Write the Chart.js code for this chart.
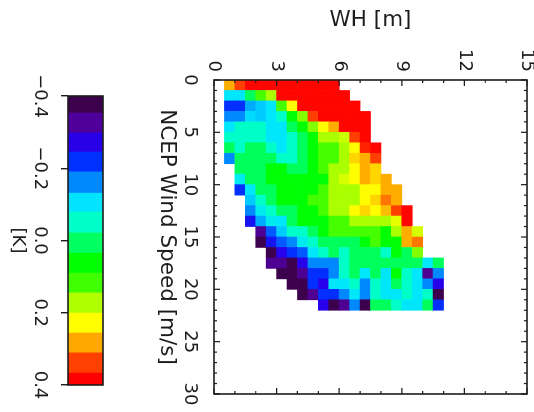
<!DOCTYPE html>
<html>
<head>
<meta charset="utf-8">
<script src="https://cdn.jsdelivr.net/npm/chart.js@4"></script>
<style>
html,body{margin:0;padding:0;background:#fff;overflow:hidden;width:534px;height:412px}
#page{position:absolute;left:0;top:0;width:412px;height:534px;transform-origin:0 0;transform:translate(534px,0) rotate(90deg);filter:blur(0.5px)}
#main{position:absolute;left:0;top:-20px}
#bar{position:absolute;left:0;top:420px}
</style>
</head>
<body>
<div id="page">
<canvas id="main" width="412" height="430"></canvas>
<canvas id="bar" width="412" height="114"></canvas>
</div>
<script>
// Axis titles and ticks
const xTitle = 'NCEP Wind Speed [m/s]';
const yTitle = 'WH [m]';
const barTitle = '[K]';
const xRange = [0, 30];
const yRange = [0, 15];
const barRange = [-0.4, 0.4];
const binWidth = 0.5;

// Colour scale: band limits in K and one colour per band
const bandEdges = [-0.4,-0.353,-0.298,-0.245,-0.19,-0.131,-0.079,-0.021,0.035,0.09,0.145,0.201,0.256,0.311,0.367,0.4];
const bandColors = ['#3c004c','#50009a','#2800e8','#0030ff','#0088ff','#00e4ff','#00ffc8','#00ff60','#00ff00','#40ff00','#b0ff00','#ffff00','#ffa800','#ff4000','#ff0000'];

// First WH bin (in 0.5 m steps) filled in each 1 m/s wind-speed row
const firstBin = [1,1,1,1,1,1,1,1,2,2,2,3,3,3,4,4,5,5,6,7,8,10];

// Mean difference [K] for each wind-speed row, left to right in WH
const wind0  = [.28,.34,.38,.38,.38,.38,.38,.38,.38,.38,.38];
const wind1  = [-.10,-.10,.01,.12,.17,.38,.38,.38,.38,.38,.38,.38];
const wind2  = [-.22,-.22,-.14,-.12,-.10,.12,.23,.38,.38,.38,.38,.38,.38];
const wind3  = [-.16,-.16,-.11,-.12,-.10,-.05,.06,.15,.34,.38,.38,.38,.38,.38];
const wind4  = [-.10,-.05,-.05,-.05,-.10,-.10,.01,.06,.15,.23,.28,.38,.38,.38];
const wind5  = [-.05,-.05,-.05,-.05,-.10,-.10,-.05,.01,.06,.17,.17,.19,.34,.38];
const wind6  = [.01,-.05,.01,.01,-.05,-.10,-.05,.01,.06,.12,.12,.17,.23,.36,.38];
const wind7  = [-.16,.01,.01,.01,.01,-.05,-.05,.01,.06,.12,.12,.17,.255,.28,.34];
const wind8  = [.01,.01,.01,.06,.06,.01,.01,.06,.12,.17,.17,.23,.28,.255];
const wind9  = [-.09,.01,.01,.06,.06,.06,.06,.06,.06,.17,.20,.23,.28,.255,.28];
const wind10 = [-.22,-.10,.01,.01,.06,.06,.06,.06,.12,.17,.17,.17,.23,.23,.28,.28];
const wind11 = [-.12,-.05,.01,.06,.06,.06,.12,.12,.17,.17,.17,.23,.255,.31,.28];
const wind12 = [-.16,-.09,-.05,.01,.01,.06,.06,.12,.17,.17,.23,.255,.23,.27,.34,.38];
const wind13 = [-.25,-.14,-.09,-.10,.01,.06,.06,.06,.12,.12,.17,.17,.17,.17,.21,.38];
const wind14 = [-.33,-.19,-.12,-.05,-.05,.01,.06,.12,.12,.12,.12,.12,.06,.17,.28,.20];
const wind15 = [-.38,-.25,-.19,-.16,-.09,-.05,.01,.01,.01,.01,.06,.12,.06,.06,.28,.31];
const wind16 = [-.38,-.27,-.22,-.19,-.10,-.05,.01,-.05,.01,.01,.01,-.05,.06,.01,.15];
const wind17 = [-.33,-.33,-.38,-.27,-.16,-.16,-.16,-.05,.01,.01,.01,.01,.01,.01,.01,-.10,.01];
const wind18 = [-.38,-.38,-.33,-.22,-.22,-.16,-.05,.01,-.10,.01,-.10,.06,-.05,-.10,-.33,-.16];
const wind19 = [-.38,-.38,-.22,-.27,-.10,-.10,-.05,-.16,-.05,-.10,.01,-.05,-.10,-.16,-.27];
const wind20 = [-.38,-.33,-.22,-.22,-.16,-.10,-.16,-.05,-.10,-.10,-.05,-.10,-.05,-.38];
const wind21 = [-.27,-.38,-.33,-.16,-.38,.01,.01,-.05,-.10,-.10,.01,-.22];
const windRows = [wind0,wind1,wind2,wind3,wind4,wind5,wind6,wind7,wind8,wind9,wind10,wind11,wind12,wind13,wind14,wind15,wind16,wind17,wind18,wind19,wind20,wind21];

const INK = '#1c1c1c';
const FONT = {family:'"DejaVu Sans"', size:18};
const TITLE_FONT = {family:'"DejaVu Sans"', size:21.5};

// Cells take a colour that runs smoothly between the band colours
function rgbOf(hex){
  return [1,3,5].map(i=>parseInt(hex.slice(i,i+2),16));
}
function colorOf(v){
  const mids = bandColors.map((c,i)=>(bandEdges[i]+bandEdges[i+1])/2);
  if(v<=mids[0]) return bandColors[0];
  for(let i=1;i<mids.length;i++){
    if(v<=mids[i]){
      const t=(v-mids[i-1])/(mids[i]-mids[i-1]);
      const a=rgbOf(bandColors[i-1]), b=rgbOf(bandColors[i]);
      return 'rgb('+a.map((c,k)=>Math.round(c+(b[k]-c)*t)).join(',')+')';
    }
  }
  return bandColors[bandColors.length-1];
}
const cells = [];
windRows.forEach((row,w)=>row.forEach((v,i)=>{
  const low = (firstBin[w]+i)*binWidth;
  cells.push({x:w+0.5, y:[low,low+binWidth], v:v});
}));

// Inward tick marks and frame, taken from the scales
const frame = {
  id:'frame',
  afterDraw(chart,args,opts){
    const {ctx,chartArea:a,scales} = chart;
    ctx.save();
    ctx.strokeStyle = INK;
    ctx.lineWidth = 1.6;
    ctx.strokeRect(a.left,a.top,a.right-a.left,a.bottom-a.top);
    if(opts.ticks){
      ctx.lineWidth = 1.2;
      ctx.beginPath();
      scales.x.ticks.forEach(t=>{
        const p = scales.x.getPixelForValue(t.value), len = t.value%5===0?6:3;
        ctx.moveTo(p,a.bottom); ctx.lineTo(p,a.bottom-len);
        ctx.moveTo(p,a.top); ctx.lineTo(p,a.top+len);
      });
      scales.y.ticks.forEach(t=>{
        const p = scales.y.getPixelForValue(t.value), len = t.value%3===0?6:3;
        ctx.moveTo(a.left,p); ctx.lineTo(a.left+len,p);
        ctx.moveTo(a.right,p); ctx.lineTo(a.right-len,p);
      });
      ctx.stroke();
    }
    ctx.restore();
  }
};

new Chart(document.getElementById('main'),{
  type:'bar',
  data:{datasets:[{
    data:cells,
    backgroundColor:c=>c.raw?colorOf(c.raw.v):'#fff',
    borderWidth:0,
    barPercentage:1,
    categoryPercentage:1
  }]},
  plugins:[frame],
  options:{
    responsive:false,
    animation:false,
    layout:{padding:{top:27,right:18,left:0,bottom:0}},
    plugins:{legend:{display:false},tooltip:{enabled:false},frame:{ticks:true}},
    scales:{
      x:{
        type:'linear',min:xRange[0],max:xRange[1],offset:false,
        grid:{drawOnChartArea:false,drawTicks:true,tickLength:10,tickColor:'rgba(0,0,0,0)',offset:false},border:{display:false},
        ticks:{stepSize:1,autoSkip:false,maxRotation:0,minRotation:0,padding:4,color:INK,font:FONT,
          callback:v=>v%5===0?String(v):''},
        title:{display:true,text:xTitle,color:INK,font:TITLE_FONT,padding:{top:0,bottom:30}},
        afterFit(s){s.height=90;}
      },
      y:{
        type:'linear',min:yRange[0],max:yRange[1],
        grid:{display:false,drawTicks:false},border:{display:false},
        ticks:{stepSize:1,autoSkip:false,padding:8,color:INK,font:FONT,
          callback:v=>v%3===0?String(v):''},
        title:{display:true,text:yTitle,color:INK,font:TITLE_FONT,padding:{top:8,bottom:0}},
        afterFit(s){s.width=80;}
      }
    }
  }
});

const bandBars = bandColors.map((c,i)=>({x:[bandEdges[i],bandEdges[i+1]],y:'K'}));
new Chart(document.getElementById('bar'),{
  type:'bar',
  data:{labels:['K'],datasets:[{
    data:bandBars,
    backgroundColor:bandColors,
    borderWidth:0,
    barPercentage:1,
    categoryPercentage:1
  }]},
  plugins:[frame],
  options:{
    indexAxis:'y',
    responsive:false,
    animation:false,
    layout:{padding:{top:11,left:96,right:27,bottom:0}},
    plugins:{legend:{display:false},tooltip:{enabled:false},frame:{ticks:false}},
    scales:{
      y:{display:false,offset:true},
      x:{
        type:'linear',min:barRange[0],max:barRange[1],
        grid:{drawOnChartArea:false,drawTicks:true,tickLength:7,tickColor:INK,lineWidth:1.4},
        border:{display:false},
        ticks:{stepSize:0.2,autoSkip:false,maxRotation:0,minRotation:0,padding:11,color:INK,font:FONT,
          callback:v=>{const r=Math.round(v*10)/10;return (r<0?'\u2212':'')+Math.abs(r).toFixed(1);}},
        title:{display:true,text:barTitle,color:INK,font:FONT,padding:{top:0,bottom:7}},
        afterFit(s){s.height=68;}
      }
    }
  }
});
</script>
</body>
</html>
